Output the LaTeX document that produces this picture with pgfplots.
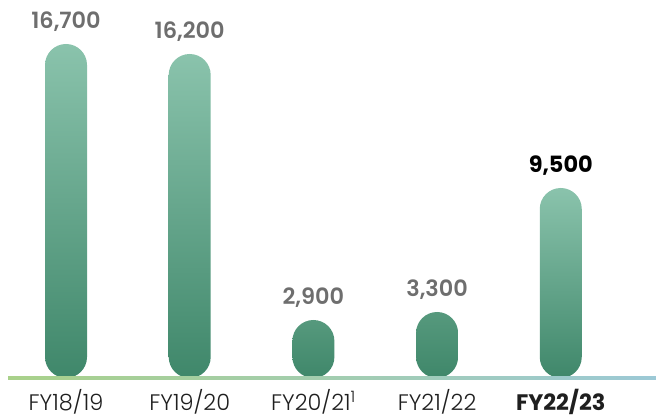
\documentclass[border=0pt]{standalone}
\usepackage{fontspec}
\setmainfont{Poppins}
\newfontfamily\lightfont{Poppins Light}
\newfontfamily\semifont{Poppins SemiBold}
\usepackage{pgfplots}
\usepackage{pgfplotstable}
\pgfplotsset{compat=1.18}
\definecolor{barTop}{HTML}{8AC3AC}
\definecolor{barBot}{HTML}{3F876A}
\definecolor{barTopS}{HTML}{56997D}
\definecolor{valGray}{HTML}{6E6E6E}
\definecolor{lineL}{HTML}{A9D18A}
\definecolor{lineR}{HTML}{9CC9D6}
\pgfplotstableread{
x v
0 16700
1 16200
2 2900
3 3300
4 9500
}\datatable
\begin{document}
\begin{tikzpicture}
\useasboundingbox (0,0) rectangle (656bp,418bp);
\begin{axis}[
  at={(8bp,40bp)}, anchor=south west,
  scale only axis, width=648bp, height=378bp,
  xmin=-0.469, xmax=4.77, ymin=1050, ymax=19950,
  ybar, bar width=42bp, bar shift=0pt,
  axis line style={draw=none}, tick style={draw=none},
  ytick=\empty,
  xtick={0,1,2,3,4},
  xticklabels={FY18/19, FY19/20, FY20/21\textsuperscript{1}, FY21/22, {\normalfont\bfseries FY22/23}},
  xticklabel style={anchor=base, yshift=-28bp, font=\lightfont\fontsize{22.5}{22.5}\selectfont, text=black!88},
  nodes near coords={\pgfmathprintnumber[fixed, precision=0, 1000 sep={,}, assume math mode=true]{\pgfplotspointmeta}},
  nodes near coords style={anchor=base, yshift=15bp, font=\semifont\fontsize{22.5}{22.5}\selectfont, text=valGray},
  point meta=explicit,
]
\addplot[draw=none, rounded corners=21bp, top color=barTop, bottom color=barBot]
  table[x=x, y expr=\thisrow{v}+1050, meta=v, skip coords between index={1}{5}] {\datatable};
\addplot[draw=none, rounded corners=21bp, top color=barTop, bottom color=barBot]
  table[x=x, y expr=\thisrow{v}+1050, meta=v, skip coords between index={0}{1}, skip coords between index={2}{5}] {\datatable};
\addplot[draw=none, rounded corners=21bp, top color=barTopS, bottom color=barBot]
  table[x=x, y expr=\thisrow{v}+1050, meta=v, skip coords between index={0}{2}, skip coords between index={3}{5}] {\datatable};
\addplot[draw=none, rounded corners=21bp, top color=barTopS, bottom color=barBot]
  table[x=x, y expr=\thisrow{v}+1050, meta=v, skip coords between index={0}{3}, skip coords between index={4}{5}] {\datatable};
\addplot[draw=none, rounded corners=21bp, top color=barTop, bottom color=barBot,
  nodes near coords style={text=black, font=\normalfont\bfseries\fontsize{22.5}{22.5}\selectfont}]
  table[x=x, y expr=\thisrow{v}+1050, meta=v, skip coords between index={0}{4}] {\datatable};
\end{axis}
\shade[left color=lineL, right color=lineR] (8bp,38.8bp) rectangle (656bp,41.2bp);
\end{tikzpicture}
\end{document}
